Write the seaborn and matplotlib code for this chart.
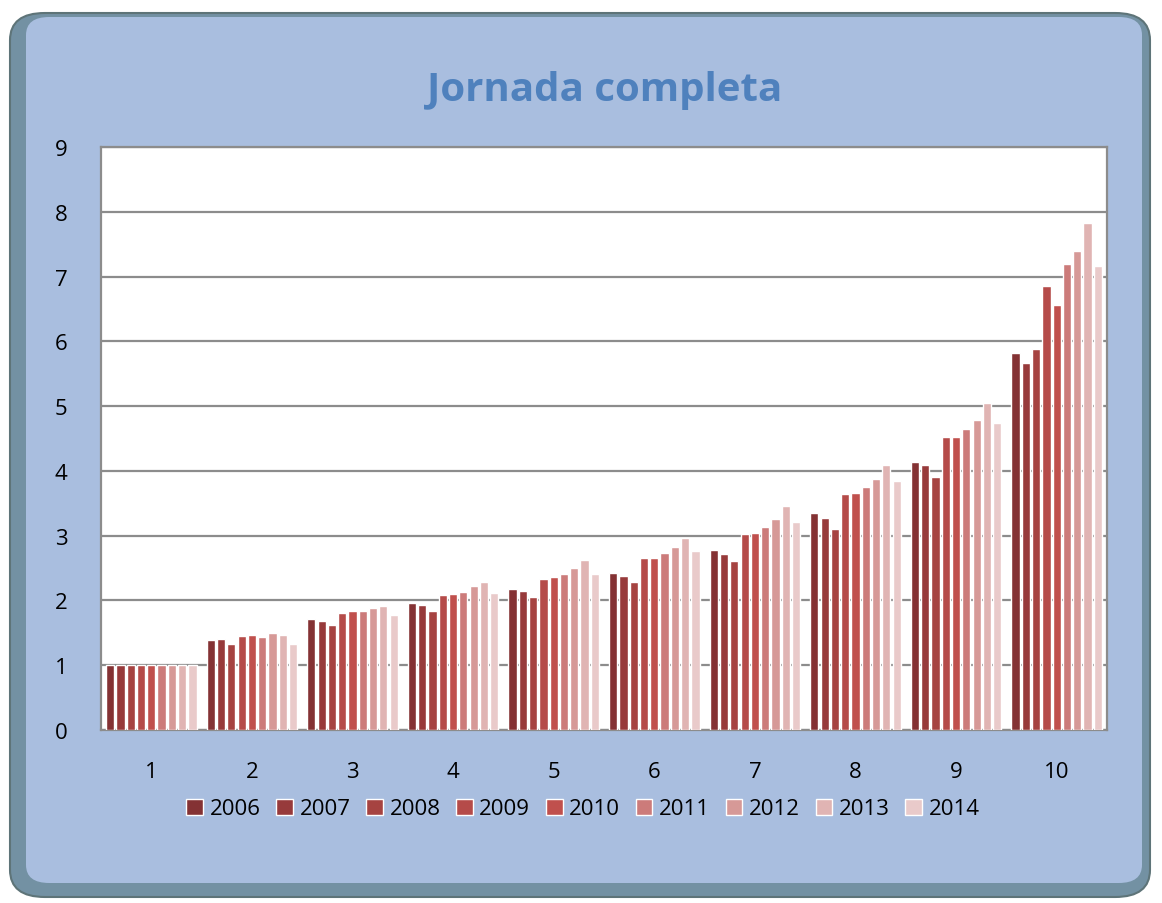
import pandas as pd
import numpy as np
import matplotlib
matplotlib.use("Agg")
import matplotlib.pyplot as plt
from matplotlib.patches import FancyBboxPatch, Patch
import seaborn as sns

# datos (deciles 1-10, un valor por año)
deciles = [1, 2, 3, 4, 5, 6, 7, 8, 9, 10]
anios = ["2006", "2007", "2008", "2009", "2010", "2011", "2012", "2013", "2014"]
v2006 = [1.0, 1.39, 1.71, 1.96, 2.17, 2.42, 2.78, 3.35, 4.14, 5.82]
v2007 = [1.0, 1.40, 1.69, 1.93, 2.14, 2.38, 2.72, 3.27, 4.09, 5.66]
v2008 = [1.0, 1.33, 1.62, 1.84, 2.05, 2.29, 2.61, 3.10, 3.90, 5.88]
v2009 = [1.0, 1.45, 1.81, 2.09, 2.33, 2.65, 3.02, 3.64, 4.53, 6.85]
v2010 = [1.0, 1.47, 1.83, 2.10, 2.36, 2.65, 3.04, 3.66, 4.53, 6.56]
v2011 = [1.0, 1.43, 1.84, 2.13, 2.41, 2.73, 3.14, 3.75, 4.65, 7.20]
v2012 = [1.0, 1.49, 1.89, 2.23, 2.50, 2.83, 3.26, 3.87, 4.78, 7.39]
v2013 = [1.0, 1.46, 1.92, 2.28, 2.62, 2.96, 3.46, 4.09, 5.05, 7.83]
v2014 = [1.0, 1.33, 1.77, 2.11, 2.41, 2.76, 3.21, 3.84, 4.74, 7.16]
series = [v2006, v2007, v2008, v2009, v2010, v2011, v2012, v2013, v2014]

colores = ["#843234", "#973A3B", "#A64341", "#B54B49", "#C0504D",
           "#CC7B7A", "#D69997", "#E0B4B3", "#E9CACA"]

filas = []
for anio, vals in zip(anios, series):
    for d, v in zip(deciles, vals):
        filas.append({"decil": str(d), "anio": anio, "valor": v})
df = pd.DataFrame(filas)

sns.set_style("white")
plt.rcParams["font.family"] = ["Open Sans", "DejaVu Sans"]
plt.rcParams["text.color"] = "black"

fig = plt.figure(figsize=(11.62, 9.04), dpi=100)
fig.patch.set_facecolor("white")

# marco redondeado azul (fondo del grafico)
W, H = 1162, 904
marco = FancyBboxPatch((10 / W, 6 / H), 1140 / W, 884 / H,
                       boxstyle="round,pad=0,rounding_size=0.03",
                       transform=fig.transFigure, facecolor="#7391A3",
                       edgecolor="#5E7478", linewidth=1.5, zorder=-10)
fig.add_artist(marco)
interior = FancyBboxPatch((26 / W, 20 / H), 1116 / W, 866 / H,
                          boxstyle="round,pad=0,rounding_size=0.02",
                          transform=fig.transFigure, facecolor="#A9BEDF",
                          edgecolor="none", zorder=-9)
fig.add_artist(interior)

ax = fig.add_axes([101 / W, 1 - 731 / H, 1006 / W, 583 / H])
ax.set_facecolor("white")
ax.set_zorder(1)

sns.barplot(data=df, x="decil", y="valor", hue="anio", palette=colores,
            saturation=1, width=0.92, gap=0.2, edgecolor="white",
            linewidth=1.0, ax=ax, legend=False, zorder=3)

ax.set_ylim(0, 9)
ax.set_yticks(range(0, 10))
ax.yaxis.grid(True, color="#8C8C8C", linewidth=1.6, zorder=0)
ax.set_axisbelow(True)
ax.set_xlabel("")
ax.set_ylabel("")
ax.tick_params(axis="both", length=0, labelsize=16, colors="black")
ax.tick_params(axis="y", pad=24)
ax.tick_params(axis="x", pad=22)
for s in ax.spines.values():
    s.set_color("#8C8C8C")
    s.set_linewidth(1.6)

fig.text(605 / W, 1 - 90 / H, "Jornada completa", ha="center", va="center",
         fontsize=29, fontweight="bold", color="#4F81BD")

handles = [Patch(facecolor=c, edgecolor="white", linewidth=1.0) for c in colores]
fig.legend(handles, anios, loc="center", bbox_to_anchor=(583 / W, 1 - 810 / H),
           ncol=9, frameon=False, fontsize=16, handlelength=0.75,
           handleheight=0.75, handletextpad=0.3, columnspacing=0.7)

fig.savefig("out.png", dpi=100)
